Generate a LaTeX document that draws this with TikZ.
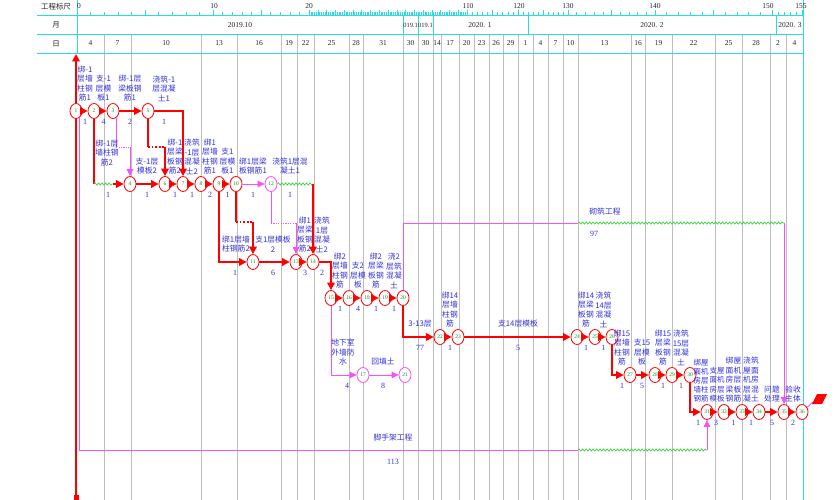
\documentclass[tikz,border=0pt]{standalone}
\usepackage{fontspec}
\setmainfont{Liberation Serif}
\newfontfamily\cjk{Noto Sans CJK SC}
\usetikzlibrary{shapes.geometric,arrows.meta,decorations.pathmorphing,calc}
\definecolor{cyanL}{RGB}{40,220,230}
\definecolor{gridG}{RGB}{190,190,190}
\definecolor{mag}{RGB}{250,80,250}
\definecolor{waveG}{RGB}{60,210,60}
\definecolor{labB}{RGB}{50,50,215}
\definecolor{nodeG}{RGB}{0,150,0}
\begin{document}
\begin{tikzpicture}[x=1bp,y=-1bp,
  hd/.style={font=\fontsize{7.5}{8}\selectfont, inner sep=0pt, text=black!85},
  hdc/.style={font=\cjk\fontsize{7.5}{8}\selectfont, inner sep=0pt, text=black!85},
  nd/.style={ellipse, draw=red, line width=0.8bp, fill=white, minimum width=12bp, minimum height=15bp, inner sep=0pt, text=nodeG, font=\fontsize{5.5}{5.5}\selectfont},
  ndm/.style={nd, draw=mag},
  crit/.style={draw=red, line width=2.6bp, -{Triangle[length=7.5bp,width=7.5bp]}},
  critn/.style={draw=red, line width=2.6bp},
  critdot/.style={draw=red, line width=2.6bp, dash pattern=on 1.8bp off 1.8bp},
  dep/.style={draw=mag, line width=0.9bp, -{Triangle[length=7bp,width=6.5bp]}},
  depn/.style={draw=mag, line width=0.9bp},
  depdot/.style={draw=mag, line width=0.9bp, dash pattern=on 1.2bp off 1.2bp},
  wave/.style={draw=waveG, line width=0.7bp, decorate, decoration={snake, amplitude=1.1bp, segment length=3.5bp}},
  lab/.style={text=labB, font=\cjk\fontsize{7.8}{9.5}\selectfont, align=center, inner sep=0pt, anchor=south},
  labc/.style={text=labB, font=\cjk\fontsize{7.8}{9.5}\selectfont, align=center, inner sep=0pt},
  dur/.style={text=labB, font=\fontsize{8}{9}\selectfont, inner sep=0pt}
]
\useasboundingbox (0,0) rectangle (835,500);
\fill[white] (0,0) rectangle (835,500);

% ---- grid lines (day boundaries)
\foreach \x in {104,131,201,237,281,297,314,349,363,403,418,433,441,459,474,489,503,518,533,548,563,578,631,645,672,715,742,770,786}
  \draw[gridG, line width=0.7bp] (\x,34) -- (\x,500);

% ---- header lines
\draw[cyanL, line width=0.8bp] (37,15) -- (803,15);
\draw[cyanL, line width=0.8bp] (37,34) -- (803,34);
\draw[cyanL, line width=0.8bp] (37,53) -- (803,53);
\draw[cyanL, line width=0.8bp] (77,0) -- (77,53);
\draw[cyanL, line width=0.8bp] (803,0) -- (803,500);
\foreach \x in {403,418,433,528,776}
  \draw[cyanL, line width=0.8bp] (\x,15) -- (\x,34);

% ruler ticks
\foreach \a/\xa/\b/\xb in {0/77/10/213, 10/213/20/309, 20/309/110/467, 110/467/120/518, 120/518/130/568, 130/568/140/655, 140/655/150/772, 150/772/155/802} {
  \pgfmathtruncatemacro\nn{\b-\a}
  \foreach \i in {1,...,\nn} {
    \pgfmathsetmacro\xx{\xa+\i*(\xb-\xa)/\nn}
    \pgfmathtruncatemacro\vv{\a+\i}
    \pgfmathsetmacro\hh{ifthenelse(mod(\vv,5)==0,4.5,2.5)}
    \draw[cyanL, line width=0.5bp] (\xx,15) -- (\xx,15-\hh);
  }
}
\foreach \t/\x [count=\i] in {0/79, 10/214, 20/309, 110/468, 120/519, 130/568, 140/655, 150/768, 155/801}
  \node[hd] (r\i) at (\x,6) {\t};

\node[hdc] (h1) at (56,7) {工程标尺};
\node[hdc] (h2) at (56,25) {月};
\node[hdc] (h3) at (56,43.5) {日};

% months
\node[hd] (m1) at (240,25) {2019.10};
\begin{scope}
  \clip (403.5,16) rectangle (417.5,33);
  \node[hd, font=\fontsize{6.5}{7}\selectfont] (m2) at (410.5,25) {2019.11};
\end{scope}
\begin{scope}
  \clip (418.5,16) rectangle (432.5,33);
  \node[hd, font=\fontsize{6.5}{7}\selectfont] (m3) at (425.5,25) {2019.12};
\end{scope}
\node[hd] (m4) at (480,25) {2020. 1};
\node[hd] (m5) at (652,25) {2020. 2};
\node[hd] (m6) at (790,25) {2020. 3};

% days
\foreach \c/\t [count=\i] in {90.5/4, 117.5/7, 166/10, 219/13, 259/16, 289/19, 305.5/22, 331.5/25, 356/28, 383/31, 410.5/30, 425.5/30, 437/14, 450/17, 466.5/20, 481.5/23, 496/26, 510.5/29, 525.5/1, 540.5/4, 555.5/7, 570.5/10, 604.5/13, 638/16, 658.5/19, 693.5/22, 728.5/25, 756/28, 778/2, 794.5/4}
  \node[hd] (day\i) at (\c,43.5) {\t};

% ---- start line
\coordinate (st0) at (76,497);
\coordinate (st1) at (76,54);
\draw[crit] (st0) -- (st1);
\fill[red] (73.5,495) rectangle (78.5,500);

% ---- nodes
\node[nd] (n1) at (76,111) {1};
\node[nd] (n2) at (94,111) {2};
\node[nd] (n3) at (113,111) {3};
\node[nd] (n5) at (148,111) {5};
\node[nd] (n4) at (130,184) {4};
\node[nd] (n6) at (165,184) {6};
\node[nd] (n7) at (183,184) {7};
\node[nd] (n8) at (201,184) {8};
\node[nd] (n9) at (219,184) {9};
\node[nd] (n10) at (236,184) {10};
\node[ndm] (n12) at (271,184) {12};
\node[nd] (n11) at (253,262) {11};
\node[nd] (n13) at (296,262) {13};
\node[nd] (n14) at (313,262) {14};
\node[nd] (n15) at (331,298) {15};
\node[nd] (n16) at (349,298) {16};
\node[nd] (n18) at (367,298) {18};
\node[nd] (n19) at (385,298) {19};
\node[nd] (n20) at (403,298) {20};
\node[ndm] (n17) at (363,375) {17};
\node[ndm] (n21) at (405,375) {21};
\node[nd] (n22) at (440,337) {22};
\node[nd] (n23) at (458,337) {23};
\node[nd] (n24) at (577,337) {24};
\node[nd] (n25) at (595,337) {25};
\node[nd] (n26) at (612,337) {26};
\node[nd] (n27) at (630,375) {27};
\node[nd] (n28) at (655,375) {28};
\node[nd] (n29) at (672,375) {29};
\node[nd] (n30) at (690,375) {30};
\node[nd] (n31) at (707,412) {31};
\node[nd] (n32) at (724,412) {32};
\node[nd] (n33) at (742,412) {33};
\node[nd] (n34) at (759,412) {34};
\node[nd] (n35) at (784,412) {35};
\node[nd] (n36) at (802,412) {36};

% level coordinates
\coordinate (k1) at (0,147);
\coordinate (k2) at (0,222);
\coordinate (k3) at (0,223);
\coordinate (w1) at (113,184);
\coordinate (mA) at (578,223);
\coordinate (sA) at (578,450);
\coordinate (fin) at (813,402);

% ---- connectors
\draw[crit] (n1) -- (n2);
\draw[crit] (n2) -- (n3);
\draw[crit] (n3) -- (n5);
% 2 -> 4
\draw[critn] (n2) -- (n2 |- n4);
\draw[wave] (n2 |- n4) -- (w1);
\draw[crit] (w1) -- (n4);
% 3 -> 4 dummy
\draw[depn] (n3.-65) -- (n3.-65 |- k1);
\draw[depdot] (n3.-65 |- k1) -- (n4 |- k1);
\draw[dep] (n4 |- k1) -- (n4);
% 5 -> 6 dummy
\draw[critn] (n5) -- (n5 |- k1);
\draw[critdot] (n5 |- k1) -- (n6 |- k1);
\draw[crit] (n6 |- k1) -- (n6);
% 5 -> 7
\draw[crit] (n5) -| (n7);
\draw[crit] (n4) -- (n6);
\draw[crit] (n6) -- (n7);
\draw[crit] (n7) -- (n8);
\draw[crit] (n8) -- (n9);
\draw[crit] (n9) -- (n10);
\draw[dep] (n10) -- (n12);
% 12 -> 14
\draw[wave] (n12) -- (n14 |- n12);
\draw[crit] (n14 |- n12) -- (n14);
% 9 -> 11
\draw[crit] (n9) |- (n11);
% 10 -> 11 dummy
\draw[critn] (n10) -- (n10 |- k2);
\draw[critdot] (n10 |- k2) -- (n11 |- k2);
\draw[crit] (n11 |- k2) -- (n11);
\draw[crit] (n11) -- (n13);
% 12 -> 13 dummy
\draw[depn] (n12) -- (n12 |- k3);
\draw[depdot] (n12 |- k3) -- (n13 |- k3);
\draw[dep] (n13 |- k3) -- (n13);
\draw[crit] (n13) -- (n14);
\draw[crit] (n14) -| (n15);
\draw[crit] (n15) -- (n16);
\draw[crit] (n16) -- (n18);
\draw[crit] (n18) -- (n19);
\draw[crit] (n19) -- (n20);
\draw[dep] (n15) |- (n17);
\draw[dep] (n17) -- (n21);
\draw[crit] (n20) |- (n22);
% masonry 20 -> 35
\draw[depn] (n20) |- (mA);
\draw[wave] (mA) -- (n35 |- mA);
\draw[dep] (n35 |- mA) -- (n35);
\draw[crit] (n22) -- (n23);
\draw[crit] (n23) -- (n24);
\draw[crit] (n24) -- (n25);
\draw[crit] (n25) -- (n26);
\draw[crit] (n26) |- (n27);
\draw[crit] (n27) -- (n28);
\draw[crit] (n28) -- (n29);
\draw[crit] (n29) -- (n30);
\draw[crit] (n30) |- (n31);
\draw[crit] (n31) -- (n32);
\draw[crit] (n32) -- (n33);
\draw[crit] (n33) -- (n34);
\draw[crit] (n34) -- (n35);
\draw[crit] (n35) -- (n36);
% scaffolding 1 -> 31
\draw[depn] (n1.-60) |- (sA);
\draw[wave] (sA) -- (n31 |- sA);
\draw[dep] (n31 |- sA) -- (n31);
% finish
\draw[depn] (n36) -- (fin);
\fill[red] (812,404) -- (817,394) -- (827,394) -- (822,404) -- cycle;

% ---- labels row 1
\node[lab] (la1) at (85,101.5) {绑-1\\层墙\\柱钢\\筋1};
\node[lab] (la2) at (103.5,101.5) {支-1\\层模\\板1};
\node[lab] (la3) at (130,101.5) {绑-1层\\梁板钢\\筋1};
\node[lab] (la5) at (164,101.5) {浇筑-1\\层混凝\\土1};
\node[dur] (du1) at (85,122) {1};
\node[dur] (du2) at (103.5,122) {4};
\node[dur] (du3) at (130,122) {2};
\node[dur] (du5) at (164,122) {1};
% row 2
\node[lab] (la4) at (107,166) {绑-1层\\墙柱钢\\筋2};
\node[lab] (la6) at (147,174.5) {支-1层\\模板2};
\node[lab] (la7) at (175,174.5) {绑-1\\层梁\\板钢\\筋2};
\node[lab] (la8) at (192,174.5) {浇筑\\-1层\\混凝\\土2};
\node[lab] (la9) at (210,174.5) {绑1\\层墙\\柱钢\\筋1};
\node[lab] (la10) at (227.5,174.5) {支1\\层模\\板1};
\node[lab] (la12) at (253,174.5) {绑1层梁\\板钢筋1};
\node[lab] (la14) at (290,174.5) {浇筑1层混\\凝土1};
\node[dur] (du4) at (108,195) {1};
\node[dur] (du6) at (147,195) {1};
\node[dur] (du7) at (175,195) {1};
\node[dur] (du8) at (192,195) {1};
\node[dur] (du9) at (210,195) {2};
\node[dur] (du10) at (227.5,195) {1};
\node[dur] (du12) at (253,195) {1};
\node[dur] (du14) at (290,195) {1};
% row 3
\node[lab] (la11) at (236,252.5) {绑1层墙\\柱钢筋2};
\node[lab] (la13) at (273,252.5) {支1层模板\\2};
\node[lab] (la13b) at (305,252.5) {绑1\\层梁\\板钢\\筋2};
\node[lab] (la15) at (322,252.5) {浇筑\\1层\\混凝\\土2};
\node[dur] (du11) at (235,273) {1};
\node[dur] (du13) at (273,273) {6};
\node[dur] (du13b) at (305,273) {3};
\node[dur] (du15) at (322,273) {2};
% row 4
\node[lab] (la16) at (340,288.5) {绑2\\层墙\\柱钢\\筋};
\node[lab] (la18) at (358,288.5) {支2\\层模\\板};
\node[lab] (la19) at (376,288.5) {绑2\\层梁\\板钢\\筋};
\node[lab] (la20) at (394,288.5) {浇2\\层筑\\混凝\\土};
\node[dur] (du16) at (340,309) {1};
\node[dur] (du18) at (358,309) {4};
\node[dur] (du19) at (376,309) {1};
\node[dur] (du20) at (394,309) {1};
\node[lab] (la17) at (343,365.5) {地下室\\外墙防\\水};
\node[lab] (la21) at (383,365.5) {回填土};
\node[dur] (du17) at (347,386) {4};
\node[dur] (du21) at (383,386) {8};
\node[lab] (la22) at (420,327.5) {3-13层};
\node[dur] (du22) at (420,348) {77};
% row 5
\node[lab] (la23) at (450,327.5) {绑14\\层墙\\柱钢\\筋};
\node[lab] (la24) at (518,327.5) {支14层模板};
\node[lab] (la25) at (586,327.5) {绑14\\层梁\\板钢\\筋};
\node[lab] (la26) at (603.5,327.5) {浇筑\\14层\\混凝\\土};
\node[dur] (du23) at (450,348) {1};
\node[dur] (du24) at (518,348) {5};
\node[dur] (du25) at (586,348) {1};
\node[dur] (du26) at (603.5,348) {1};
% row 6
\node[lab] (la27) at (622,365.5) {绑15\\层墙\\柱钢\\筋};
\node[lab] (la28) at (642,365.5) {支15\\层模\\板};
\node[lab] (la29) at (663,365.5) {绑15\\层梁\\板钢\\筋};
\node[lab] (la30) at (681,365.5) {浇筑\\15层\\混凝\\土};
\node[dur] (du27) at (622,386) {1};
\node[dur] (du28) at (642,386) {5};
\node[dur] (du29) at (663,386) {1};
\node[dur] (du30) at (681,386) {1};
% row 7
\node[lab, font=\cjk\fontsize{7.5}{9}\selectfont] (la31) at (701,402.5) {绑屋\\面机\\房层\\墙柱\\钢筋};
\node[lab, font=\cjk\fontsize{7.5}{9.5}\selectfont] (la32) at (717,402.5) {支屋\\面机\\房层\\模板};
\node[lab] (la33) at (733.5,402.5) {绑屋\\面机\\房层\\梁板\\钢筋};
\node[lab] (la34) at (751,402.5) {浇筑\\屋面\\机房\\层混\\凝土};
\node[lab] (la35) at (772,402.5) {问题\\处理};
\node[lab] (la36) at (793,402.5) {验收\\主体};
\node[dur] (du31) at (698,423) {1};
\node[dur] (du32) at (716,423) {3};
\node[dur] (du33) at (733.5,423) {1};
\node[dur] (du34) at (751,423) {1};
\node[dur] (du35) at (772,423) {5};
\node[dur] (du36) at (793,423) {2};
% long activities
\node[labc] (lqz) at (605,212) {砌筑工程};
\node[dur] (dqz) at (594,234) {97};
\node[labc] (ljs) at (393,438) {脚手架工程};
\node[dur] (djs) at (393,462) {113};
\end{tikzpicture}
\end{document}
